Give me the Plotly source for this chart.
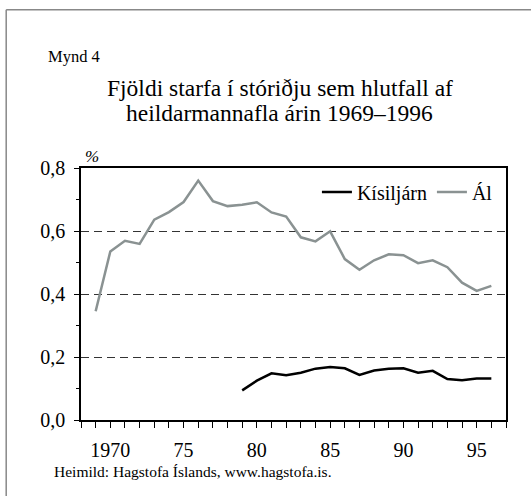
import plotly.graph_objects as go

years_al = list(range(1969, 1997))
al = [0.345, 0.535, 0.569, 0.559, 0.636, 0.660, 0.692, 0.760, 0.695, 0.679,
      0.683, 0.691, 0.659, 0.646, 0.580, 0.567, 0.599, 0.511, 0.477, 0.507,
      0.526, 0.523, 0.498, 0.507, 0.485, 0.436, 0.410, 0.426]

years_ks = list(range(1979, 1997))
kisiljarn = [0.094, 0.125, 0.148, 0.142, 0.150, 0.163, 0.168, 0.164, 0.143,
             0.157, 0.163, 0.164, 0.150, 0.156, 0.130, 0.126, 0.132, 0.132]

x_tickvals = [1970, 1975, 1980, 1985, 1990, 1995]
x_ticktext = ["1970", "75", "80", "85", "90", "95"]
y_tickvals = [0.0, 0.2, 0.4, 0.6, 0.8]

FONT = "Liberation Serif, Times New Roman, serif"

fig = go.Figure()
fig.add_trace(go.Scatter(x=years_ks, y=kisiljarn, mode="lines", name="Kísiljárn",
                         line=dict(color="#000000", width=2.5)))
fig.add_trace(go.Scatter(x=years_al, y=al, mode="lines", name="Ál",
                         line=dict(color="#8a9292", width=2.5)))

fig.update_layout(
    width=531, height=496,
    margin=dict(l=81, r=25, t=168, b=76),
    paper_bgcolor="white", plot_bgcolor="white",
    separators=",.",
    font=dict(family=FONT, color="#000000", size=20),
    showlegend=True,
    legend=dict(orientation="h", x=0.981, xanchor="right", y=0.905, yanchor="middle",
                bgcolor="rgba(0,0,0,0)", font=dict(size=20, family=FONT),
                itemwidth=30, tracegroupgap=0),
    xaxis=dict(range=[1968, 1997], tickvals=x_tickvals, ticktext=x_ticktext,
               ticks="outside", ticklen=6, tickwidth=1, tickcolor="#000",
               showline=True, linecolor="#000", linewidth=1.5, mirror=True,
               showgrid=False, zeroline=False, ticklabelstandoff=5,
               tickfont=dict(size=20, family=FONT),
               minor=dict(tick0=1968, dtick=1, ticks="outside", ticklen=6,
                          tickcolor="#000", tickwidth=1, showgrid=False)),
    yaxis=dict(range=[0, 0.8], tickvals=y_tickvals, tickformat=".1f",
               ticks="outside", ticklen=5, tickwidth=1, tickcolor="#000",
               showline=True, linecolor="#000", linewidth=1.5, mirror=True,
               showgrid=True, gridcolor="#333333", gridwidth=1, griddash="8px,5px",
               zeroline=False, ticklabelstandoff=5, tickfont=dict(size=20, family=FONT),
               minor=dict(dtick=0.1, tick0=0, ticks="outside", ticklen=3,
                          tickcolor="#000", tickwidth=1, showgrid=False)),
)

# outer frame (top and left edges)
fig.add_shape(type="line", xref="paper", yref="paper", x0=-0.176, x1=1.2,
              y0=1.628, y1=1.628, line=dict(color="#888888", width=1.5))
fig.add_shape(type="line", xref="paper", yref="paper", x0=-0.176, x1=-0.176,
              y0=1.628, y1=-0.4, line=dict(color="#888888", width=1.5))

fig.add_annotation(text="Mynd 4", xref="paper", yref="paper", x=-0.082, y=1.442,
                   xanchor="left", yanchor="middle", showarrow=False,
                   font=dict(size=16.5, family=FONT))
fig.add_annotation(text="Fjöldi starfa í stóriðju sem hlutfall af",
                   xref="paper", yref="paper", x=0.468, y=1.318, xanchor="center",
                   yanchor="middle", showarrow=False, font=dict(size=23.5, family=FONT))
fig.add_annotation(text="heildarmannafla árin 1969–1996",
                   xref="paper", yref="paper", x=0.468, y=1.218, xanchor="center",
                   yanchor="middle", showarrow=False, font=dict(size=23.5, family=FONT))
fig.add_annotation(text="<i>%</i>", xref="paper", yref="paper", x=0.005, y=1.0,
                   xanchor="left", yanchor="bottom", showarrow=False,
                   font=dict(size=17, family=FONT))
fig.add_annotation(text="Heimild: Hagstofa Íslands, www.hagstofa.is.", xref="paper",
                   yref="paper", x=-0.068, y=-0.204, xanchor="left", yanchor="middle",
                   showarrow=False, font=dict(size=15.5, family=FONT))

fig.write_html("out.html", config={"displayModeBar": False},
               post_script="document.body.style.margin='0px';")
